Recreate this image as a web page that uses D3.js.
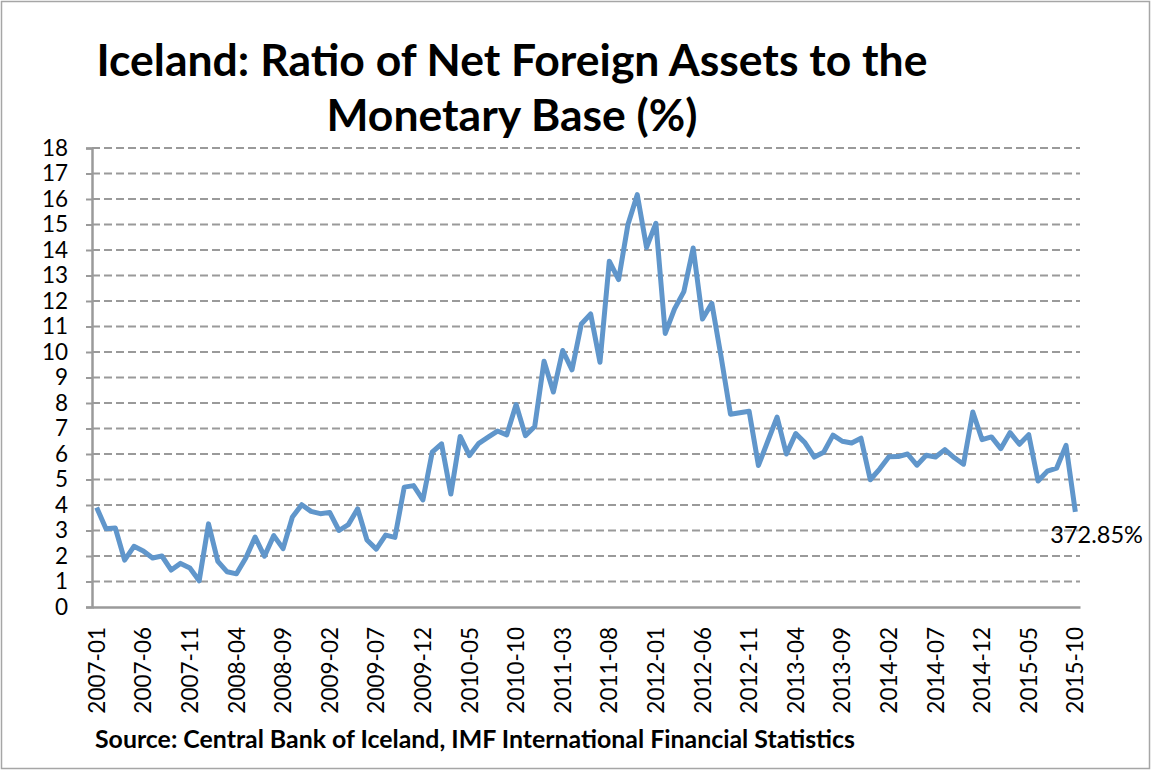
<!DOCTYPE html>
<html>
<head>
<meta charset="utf-8">
<script src="https://cdn.jsdelivr.net/npm/d3@7"></script>
<style>
  html, body { margin: 0; padding: 0; background: #fff; }
  svg { display: block; }
  text { font-family: Lato, "Open Sans", sans-serif; fill: #000; }
</style>
</head>
<body>
<svg id="chart" width="1151" height="771"></svg>
<script>
const months = [
  "2007-01","2007-02","2007-03","2007-04","2007-05","2007-06","2007-07","2007-08","2007-09","2007-10","2007-11","2007-12",
  "2008-01","2008-02","2008-03","2008-04","2008-05","2008-06","2008-07","2008-08","2008-09","2008-10","2008-11","2008-12",
  "2009-01","2009-02","2009-03","2009-04","2009-05","2009-06","2009-07","2009-08","2009-09","2009-10","2009-11","2009-12",
  "2010-01","2010-02","2010-03","2010-04","2010-05","2010-06","2010-07","2010-08","2010-09","2010-10","2010-11","2010-12",
  "2011-01","2011-02","2011-03","2011-04","2011-05","2011-06","2011-07","2011-08","2011-09","2011-10","2011-11","2011-12",
  "2012-01","2012-02","2012-03","2012-04","2012-05","2012-06","2012-07","2012-08","2012-09","2012-10","2012-11","2012-12",
  "2013-01","2013-02","2013-03","2013-04","2013-05","2013-06","2013-07","2013-08","2013-09","2013-10","2013-11","2013-12",
  "2014-01","2014-02","2014-03","2014-04","2014-05","2014-06","2014-07","2014-08","2014-09","2014-10","2014-11","2014-12",
  "2015-01","2015-02","2015-03","2015-04","2015-05","2015-06","2015-07","2015-08","2015-09","2015-10"
];

const ratio = [
  3.90, 3.07, 3.10, 1.84, 2.38, 2.20, 1.92, 2.00, 1.45, 1.71, 1.53, 1.03,
  3.26, 1.79, 1.38, 1.30, 1.92, 2.74, 1.99, 2.80, 2.29, 3.53, 4.01, 3.75,
  3.66, 3.71, 3.00, 3.23, 3.85, 2.63, 2.27, 2.82, 2.73, 4.70, 4.76, 4.20,
  6.07, 6.40, 4.43, 6.69, 5.94, 6.42, 6.66, 6.90, 6.75, 7.94, 6.72, 7.08,
  9.64, 8.43, 10.06, 9.30, 11.10, 11.49, 9.60, 13.56, 12.84, 15.00, 16.17, 14.10,
  15.05, 10.73, 11.69, 12.37, 14.08, 11.29, 11.91, 9.80, 7.56, 7.62, 7.68, 5.55,
  6.50, 7.45, 6.00, 6.80, 6.44, 5.88, 6.07, 6.74, 6.50, 6.43, 6.62, 4.99,
  5.41, 5.89, 5.90, 6.00, 5.56, 5.95, 5.88, 6.17, 5.86, 5.60, 7.65, 6.56,
  6.67, 6.21, 6.84, 6.38, 6.76, 4.94, 5.33, 5.45, 6.34, 3.7285
];

const xTickLabels = ["2007-01","2007-06","2007-11","2008-04","2008-09","2009-02","2009-07","2009-12",
  "2010-05","2010-10","2011-03","2011-08","2012-01","2012-06","2012-11","2013-04","2013-09",
  "2014-02","2014-07","2014-12","2015-05","2015-10"];
const yTicks = [0,1,2,3,4,5,6,7,8,9,10,11,12,13,14,15,16,17,18];
const titleLines = ["Iceland: Ratio of Net Foreign Assets to the", "Monetary Base (%)"];
const sourceText = "Source: Central Bank of Iceland, IMF International Financial Statistics";
const lastLabel = "372.85%";

const svg = d3.select("#chart");
const L = 92, R = 1080, T = 148, B = 607;

// outer border
svg.append("rect").attr("x", 1.5).attr("y", 1.5).attr("width", 1148).attr("height", 767)
  .attr("fill", "#fff").attr("stroke", "#a6a6a6").attr("stroke-width", 1.5);

const x = d3.scaleBand().domain(months).range([L, R]).paddingInner(0).paddingOuter(0);
const y = d3.scaleLinear().domain([0, 18]).range([B, T]);
const cx = d => x(d) + x.bandwidth() / 2;

// gridlines
svg.append("g").selectAll("line").data(yTicks.filter(v => v > 0)).join("line")
  .attr("x1", L).attr("x2", R).attr("y1", d => y(d)).attr("y2", d => y(d))
  .attr("stroke", "#9a9a9a").attr("stroke-width", 2).attr("stroke-dasharray", "8,4");

// y axis
const yAxis = svg.append("g").attr("transform", `translate(${L},0)`)
  .call(d3.axisLeft(y).tickValues(yTicks).tickSize(6).tickPadding(18).tickFormat(d3.format("d")));
yAxis.select(".domain").attr("stroke", "#9a9a9a").attr("stroke-width", 2.5);
yAxis.selectAll(".tick line").attr("stroke", "#9a9a9a").attr("stroke-width", 2);
yAxis.selectAll(".tick text").attr("font-size", 22.5).attr("font-family", "Lato, sans-serif").attr("fill", "#000");

// x axis
const xAxis = svg.append("g").attr("transform", `translate(0,${B})`)
  .call(d3.axisBottom(x).tickValues(xTickLabels).tickSize(0).tickPadding(0));
xAxis.select(".domain").attr("stroke", "#9a9a9a").attr("stroke-width", 2.5);
xAxis.selectAll(".tick text")
  .attr("font-size", 22.5).attr("font-family", "Lato, sans-serif").attr("fill", "#000")
  .attr("text-anchor", "end")
  .attr("transform", "rotate(-90)")
  .attr("x", -20).attr("y", 0).attr("dy", "0.36em");

// line
const line = d3.line().x((d, i) => cx(months[i])).y(d => y(d));
svg.append("path").datum(ratio)
  .attr("d", line).attr("fill", "none")
  .attr("stroke", "#6096cb").attr("stroke-width", 5)
  .attr("stroke-linejoin", "round").attr("stroke-linecap", "butt");

// last point label
const lastI = ratio.length - 1;
svg.append("text")
  .attr("x", cx(months[lastI]) - 25).attr("y", y(ratio[lastI]) + 31)
  .attr("font-size", 23.5).text(lastLabel);

// title
const title = svg.append("text").attr("text-anchor", "middle").attr("font-weight", "bold").attr("font-size", 44.5);
title.append("tspan").attr("x", 512).attr("y", 76).text(titleLines[0]);
title.append("tspan").attr("x", 512).attr("y", 131).text(titleLines[1]);

// source
svg.append("text").attr("x", 95).attr("y", 748).attr("font-weight", "bold").attr("font-size", 24)
  .attr("textLength", 760).attr("lengthAdjust", "spacingAndGlyphs").text(sourceText);
</script>
</body>
</html>
